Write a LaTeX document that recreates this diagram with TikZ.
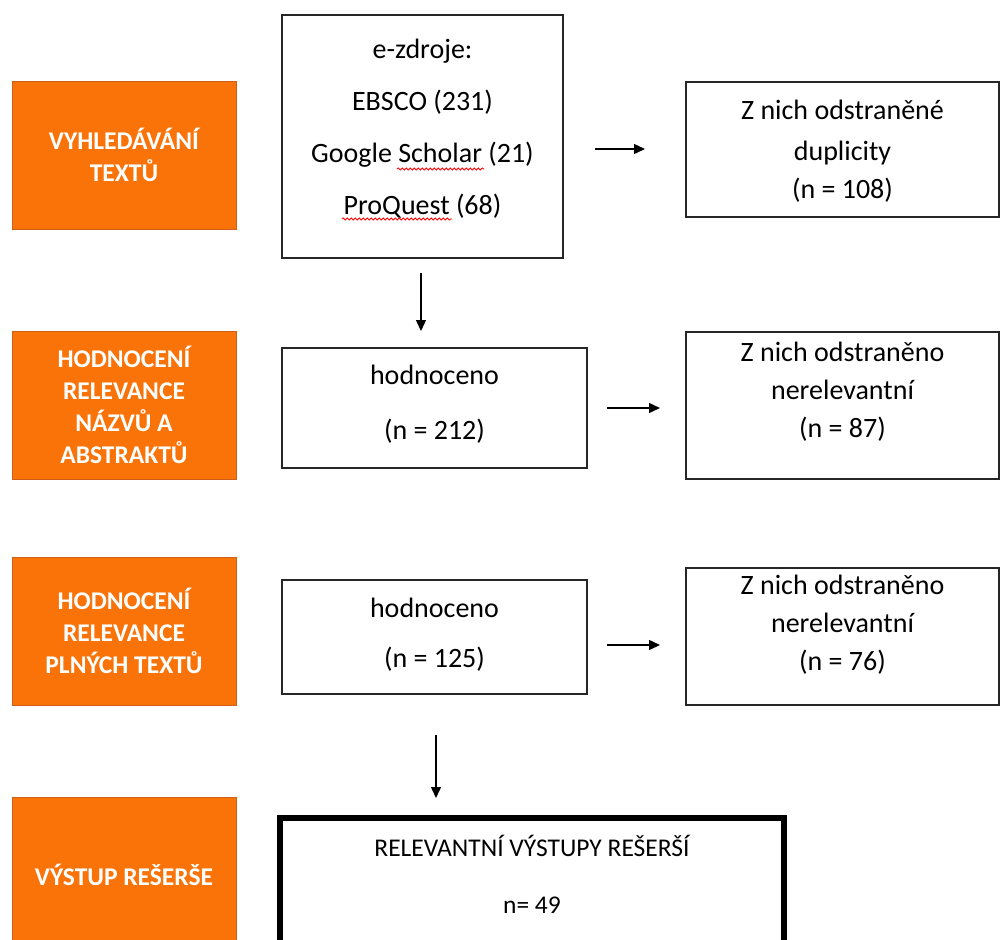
\documentclass[tikz,border=0pt]{standalone}
\usepackage{fontspec}
\setmainfont{Carlito}
\usetikzlibrary{arrows.meta, positioning, decorations.pathmorphing}

\definecolor{phasefill}{RGB}{250,115,8}
\definecolor{phaseedge}{RGB}{205,95,25}

\begin{document}
\begin{tikzpicture}[x=1pt, y=-1pt, >={Triangle[length=11pt,width=10pt]},
    phase/.style={draw=phaseedge, line width=1pt, fill=phasefill, text=white, align=center,
        minimum width=224pt, inner sep=0pt, font=\fontsize{25.5}{32}\selectfont\bfseries},
    flowbox/.style={draw=black!85, line width=1.5pt, align=center, inner sep=0pt,
        font=\fontsize{28}{38}\selectfont},
    flow/.style={->, line width=1.4pt},
    spellwave/.style={red, line width=0.8pt, decorate, decoration={snake, amplitude=1.1pt, segment length=4pt}}]
    \useasboundingbox (0,0) rectangle (1002,940);

    % phases on the left
    \node[phase, minimum height=148pt] (ph1) at (124,155) {VYHLEDÁVÁNÍ\\TEXTŮ};
    \node[phase, minimum height=148pt] (ph2) at (124,405) {HODNOCENÍ\\RELEVANCE\\NÁZVŮ A\\ABSTRAKTŮ};
    \node[phase, minimum height=148pt] (ph3) at (124,631) {HODNOCENÍ\\RELEVANCE\\PLNÝCH TEXTŮ};
    \node[phase, minimum height=156pt] (ph4) at (124,875) {VÝSTUP REŠERŠE};

    % middle column
    \node[flowbox, minimum width=281pt, minimum height=243pt, text depth=19pt] (src) at (422.5,136.5)
        {e-zdroje:\\[14pt]EBSCO (231)\\[14pt]Google Scholar (21)\\[14pt]ProQuest (68)};
    \node[flowbox, minimum width=305pt, minimum height=120pt, text depth=11pt] (hod1) at (434.5,408)
        {hodnoceno\\[17pt](n = 212)};
    \node[flowbox, minimum width=305pt, minimum height=114pt, text depth=8pt] (hod2) at (434.5,637)
        {hodnoceno\\[12pt](n = 125)};
    \node[flowbox, draw=black, line width=6pt, minimum width=504pt, minimum height=147pt, text depth=34pt,
        font=\fontsize{25.5}{38}\selectfont] (out) at (532,891.5)
        {RELEVANTNÍ VÝSTUPY REŠERŠÍ\\[19pt]n= 49};

    % spell-check marks under two words
    \draw[spellwave] (397,169) -- (484,169);
    \draw[spellwave] (342,219) -- (452,219);

    % removed records
    \node[flowbox, minimum width=313pt, minimum height=135pt, text depth=0pt] (dup) at (842.5,149.5)
        {Z nich odstraněné\\[3pt]duplicity\\(n = 108)};
    \node[flowbox, minimum width=313pt, minimum height=147pt, text depth=31pt] (rel1) at (842.5,405.5)
        {Z nich odstraněno\\nerelevantní\\(n = 87)};
    \node[flowbox, minimum width=313pt, minimum height=137pt, text depth=27pt] (rel2) at (842.5,636.5)
        {Z nich odstraněno\\nerelevantní\\(n = 76)};

    % loose arrows between the boxes
    \coordinate (a1s) at (595,149);  \coordinate (a1e) at (645,149);
    \coordinate (a2s) at (607,408);  \coordinate (a2e) at (660,408);
    \coordinate (a3s) at (607,645);  \coordinate (a3e) at (660,645);
    \coordinate (d1s) at (421,273);  \coordinate (d1e) at (421,331);
    \coordinate (d2s) at (436,735);  \coordinate (d2e) at (436,798);
    \draw[flow] (a1s) -- (a1e);
    \draw[flow] (a2s) -- (a2e);
    \draw[flow] (a3s) -- (a3e);
    \draw[flow] (d1s) -- (d1e);
    \draw[flow] (d2s) -- (d2e);
\end{tikzpicture}
\end{document}
